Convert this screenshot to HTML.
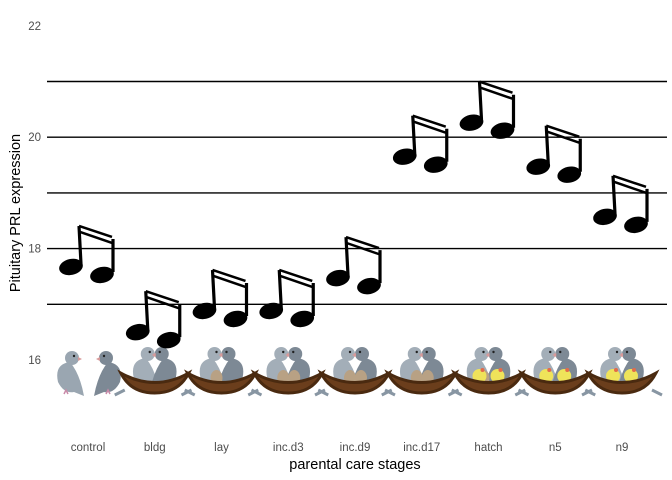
<!DOCTYPE html>
<html><head><meta charset="utf-8"><style>
body{margin:0;background:#fff}
svg{display:block;font-family:"Liberation Sans",sans-serif}
</style></head><body>
<svg id="chart" width="672" height="480" viewBox="0 0 672 480">
<g id="grid"></g>
<g id="ticks"></g>
<g id="birds"></g>
<g id="notes"></g>
<g id="xlabels"></g>
<text x="20" y="213" font-size="14.5" fill="#000" text-anchor="middle" transform="rotate(-90 20 213)">Pituitary PRL expression</text>
<text x="355" y="469" font-size="14.5" fill="#000" text-anchor="middle">parental care stages</text>
</svg>
<script>
const categories=["control","bldg","lay","inc.d3","inc.d9","inc.d17","hatch","n5","n9"];
const values=[17.67,16.5,16.88,16.88,17.47,19.65,20.26,19.47,18.57];
const yTicks=[16,18,20,22];
const staffLines=[17,18,19,20,21];
const stageHasNest=[false,true,true,true,true,true,true,true,true];
const stageEggs=[0,0,1,2,2,2,1,0,0];
const stageChicks=[0,0,0,0,0,0,2,2,2];

const NS="http://www.w3.org/2000/svg";
function y(v){return 360-(v-16)*55.7;}
function x(i){return 88+i*66.75;}
function mk(tag,attrs,parent){const e=document.createElementNS(NS,tag);for(const k in attrs)e.setAttribute(k,attrs[k]);parent.appendChild(e);return e;}

const grid=document.getElementById('grid');
staffLines.forEach(v=>{
  const l=mk('line',{x1:47,x2:667,y1:y(v),y2:y(v),stroke:'#000','stroke-width':1.4},grid);
  
  
});
const ticks=document.getElementById('ticks');
yTicks.forEach(v=>{
  const t=mk('text',{x:41,y:y(v)+4,'font-size':11.5,fill:'#4d4d4d','text-anchor':'end'},ticks);
  t.textContent=v;
  
  
});
const xl=document.getElementById('xlabels');
categories.forEach((c,i)=>{
  const t=mk('text',{x:x(i),y:451,'font-size':11.5,fill:'#4d4d4d','text-anchor':'middle'},xl);
  t.textContent=c;
  
  
});

const birds=document.getElementById('birds');
function bird(g,cx,cy,dir,col){
  mk('path',{d:`M${cx-12*dir},${cy+10} Q${cx-16*dir},${cy-8} ${cx},${cy-10} Q${cx+10*dir},${cy+2} ${cx+14*dir},${cy+24} L${cx+4*dir},${cy+20} Q${cx-6*dir},${cy+22} ${cx-12*dir},${cy+10}Z`,fill:col},g);
  mk('circle',{cx:cx+2*dir,cy:cy-14,r:7,fill:col},g);
  mk('path',{d:`M${cx+8*dir},${cy-15} L${cx+12*dir},${cy-13} L${cx+8*dir},${cy-11}Z`,fill:'#d89a9a'},g);
  mk('circle',{cx:cx+4*dir,cy:cy-16,r:1.2,fill:'#222'},g);
}
categories.forEach((c,i)=>{
  const g=mk('g',{},birds);
  
  
  const cx=x(i);
  if(!stageHasNest[i]){
    bird(g,cx-18,372,1,'#9aa6b1');bird(g,cx+20,372,-1,'#7d8995');
    mk('path',{d:`M${cx-24},394 l2,-4 l2,4 M${cx+18},394 l2,-4 l2,4`,stroke:'#c98aa8','stroke-width':1.5,fill:'none'},g);
  } else {
    bird(g,cx-9,368,1,'#a3aeb8');bird(g,cx+9,368,-1,'#7d8995');
    for(let k=0;k<stageEggs[i];k++)mk('ellipse',{cx:cx-5+k*11,cy:378,rx:6,ry:8,fill:'#b8a184'},g);
    for(let k=0;k<stageChicks[i];k++){mk('ellipse',{cx:cx-9+k*18,cy:376,rx:7,ry:7,fill:'#efe35a'},g);mk('circle',{cx:cx-6+k*18,cy:370,r:2,fill:'#e36b4a'},g);}
    mk('path',{d:`M${cx-34},373 Q${cx},392 ${cx+34},373 Q${cx+24},393 ${cx},393 Q${cx-24},393 ${cx-34},373Z`,fill:'#6b3e1c',stroke:'#4a2a10','stroke-width':3},g);
    mk('path',{d:`M${cx-30},390 L${cx-40},395 M${cx+30},390 L${cx+40},395`,stroke:'#8896a3','stroke-width':3},g);
  }
});

const notes=document.getElementById('notes');
values.forEach((v,i)=>{
  const g=mk('g',{},notes);
  
  
  const hx=x(i)-17, hy=y(v);
  mk('ellipse',{cx:hx,cy:hy,rx:12,ry:8,fill:'#000',transform:`rotate(-12 ${hx} ${hy})`},g);
  mk('ellipse',{cx:hx+31,cy:hy+8,rx:12,ry:8,fill:'#000',transform:`rotate(-12 ${hx+31} ${hy+8})`},g);
  mk('path',{d:`M${hx+10},${hy-3} L${hx+8},${hy-41} M${hx+42},${hy+5} L${hx+42},${hy-28}`,stroke:'#000','stroke-width':3.2,fill:'none'},g);
  mk('path',{d:`M${hx+8},${hy-41} L${hx+41},${hy-30} M${hx+9},${hy-35} L${hx+41},${hy-24}`,stroke:'#000','stroke-width':2.5,fill:'none'},g);
});
</script>
</body></html>
